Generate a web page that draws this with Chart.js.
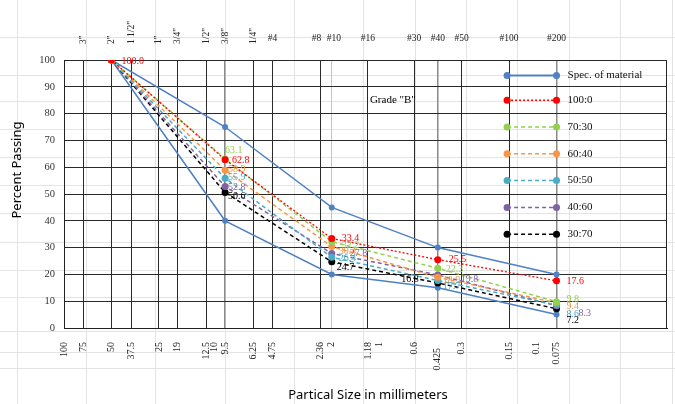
<!DOCTYPE html>
<html><head><meta charset="utf-8">
<script src="https://cdn.jsdelivr.net/npm/chart.js@4.4.0/dist/chart.umd.min.js"></script>
<style>
html,body{margin:0;padding:0;background:#fff;}
#wrap{position:relative;width:675px;height:404px;background-repeat:no-repeat;}
canvas{display:block;}
</style></head><body>
<div id="wrap"><canvas id="c" width="675" height="404"></canvas></div>
<script>
// ---------- data ----------
const sieveSizes = [75, 50, 37.5, 25, 19, 12.5, 9.5, 6.25, 4.75, 2.36, 2, 1.18, 0.6, 0.425, 0.3, 0.15, 0.075];
const sieveNames = ['3"', '2"', '1 1/2"', '1"', '3/4"', '1/2"', '3/8"', '1/4"', '#4', '#8', '#10', '#16', '#30', '#40', '#50', '#100', '#200'];
const sizeTickValues = [100, 75, 50, 37.5, 25, 19, 12.5, 10, 9.5, 6.25, 4.75, 2.36, 2, 1.18, 1, 0.6, 0.425, 0.3, 0.15, 0.1, 0.075];
const sizeTickLabels = ['100', '75', '50', '37.5', '25', '19', '12.5', '10', '9.5', '6.25', '4.75', '2.36', '2', '1.18', '1', '0.6', '0.425', '0.3', '0.15', '0.1', '0.075'];
const testSizes = [50, 9.5, 2, 0.425, 0.075];
const specUpper = [100, 75, 45, 30, 20];
const specLower = [100, 40, 20, 15, 5];
const blend100_0 = [100, 62.8, 33.4, 25.5, 17.6];
const blend70_30 = [100, 63.1, 32.2, 22.3, 9.8];
const blend60_40 = [100, 58.9, 30.4, 18.9, 9.4];
const blend50_50 = [100, 55.9, 26.4, 17.7, 8.6];
const blend40_60 = [100, 52.8, 27.8, 19.8, 8.3];
const blend30_70 = [100, 50.6, 24.7, 16.8, 7.2];
const seriesNames = ['Spec. of material', '100:0', '70:30', '60:40', '50:50', '40:60', '30:70'];
const yTitle = 'Percent Passing';
const xTitle = 'Partical Size in millimeters';
const noteText = 'Grade "B"';

// ---------- styles ----------
const SERIF = '"Liberation Serif", "Times New Roman", serif';
const SANS = '"Noto Sans", "Open Sans", sans-serif';
const specColor = '#4F81C4';
const blendColors = ['#FF0000', '#92D050', '#F79646', '#4BACC6', '#8064A2', '#000000'];
const blendDash = [[2, 2], [4, 3], [4, 3], [4, 3], [4, 3], [4, 3]];
// label offsets [dx, dy] in px from each point (null = no label); negative dx => right aligned
const labelOffsets = [
  [[10, 1], [7, 1], [10, 0], [11, 0], [10, 1]],
  [null, [0, -9], [10, 4], [8, 1], [10, -2]],
  [null, [3, -1], [7, 5], [5, 3], [10, 4]],
  [null, [3, -1], [7, 1], [5, 6], [10, 9]],
  [null, [3, 1], [18, 0], [23, 4], [22, 8]],
  [null, [3, 4], [5, 6], [-19, -4], [10, 12]]
];
const bgX = [17, 86, 155, 225, 294, 363, 415, 466, 517, 569, 620, 672];
const bgY = [37, 75, 101, 129, 157, 185, 213, 242, 270, 297, 331, 352, 368];
(function () {
  const w = document.getElementById('wrap');
  const g = [], p = [], s = [];
  bgX.forEach(x => { g.push('linear-gradient(#e3e3e3,#e3e3e3)'); p.push(x + 'px 0px'); s.push('1px 100%'); });
  bgY.forEach(y => { g.push('linear-gradient(#e3e3e3,#e3e3e3)'); p.push('0px ' + y + 'px'); s.push('100% 1px'); });
  w.style.backgroundImage = g.join(',');
  w.style.backgroundPosition = p.join(',');
  w.style.backgroundSize = s.join(',');
})();

const pts = vals => testSizes.map((sz, i) => ({ x: sz, y: vals[i] }));
const blends = [blend100_0, blend70_30, blend60_40, blend50_50, blend40_60, blend30_70];
const datasets = blends.map((vals, i) => ({
  label: seriesNames[i + 1],
  data: pts(vals),
  borderColor: blendColors[i],
  backgroundColor: blendColors[i],
  borderDash: blendDash[i],
  borderWidth: i === 0 ? 1.3 : 1.5,
  pointRadius: 3.5,
  pointBorderWidth: 0,
  labelOffsets: labelOffsets[i]
}));
datasets.push({ label: seriesNames[0], data: pts(specUpper), borderColor: specColor, backgroundColor: specColor, borderWidth: 1.5, pointRadius: 3, pointBorderWidth: 0 });
datasets.push({ label: seriesNames[0] + ' (lower)', data: pts(specLower), borderColor: specColor, backgroundColor: specColor, borderWidth: 1.5, pointRadius: 3, pointBorderWidth: 0 });

const greyLines = [9.5, 0.425, 0.075];

const overlay = {
  id: 'overlay',
  afterDatasetsDraw(chart) {
    const ctx = chart.ctx;
    ctx.save();
    ctx.font = '10px ' + SERIF;
    ctx.textBaseline = 'middle';
    chart.data.datasets.forEach((ds, di) => {
      if (!ds.labelOffsets) return;
      const meta = chart.getDatasetMeta(di);
      meta.data.forEach((pt, j) => {
        const off = ds.labelOffsets[j];
        if (!off) return;
        ctx.fillStyle = ds.borderColor;
        ctx.textAlign = off[0] < 0 ? 'right' : 'left';
        ctx.fillText(ds.data[j].y.toFixed(1), pt.x + off[0], pt.y + off[1]);
      });
    });
    ctx.restore();
  },
  afterDraw(chart) {
    const ctx = chart.ctx, xs = chart.scales.x, ys = chart.scales.y, ca = chart.chartArea;
    ctx.save();
    // right border
    ctx.strokeStyle = '#262626'; ctx.lineWidth = 1;
    ctx.beginPath(); ctx.moveTo(Math.round(ca.right) - 0.5, ca.top); ctx.lineTo(Math.round(ca.right) - 0.5, ca.bottom); ctx.stroke();
    // top sieve labels
    ctx.fillStyle = '#222';
    ctx.font = '9.5px ' + SERIF;
    sieveNames.forEach((nm, i) => {
      let x = xs.getPixelForValue(sieveSizes[i]);
      if (nm.includes('"')) {
        ctx.save(); ctx.translate(x, 44); ctx.rotate(-Math.PI / 2);
        ctx.textAlign = 'left'; ctx.textBaseline = 'middle'; ctx.fillText(nm, 0, 0); ctx.restore();
      } else {
        if (nm === '#8') x -= 4;
        if (nm === '#10') x += 2;
        ctx.textAlign = 'center'; ctx.textBaseline = 'middle'; ctx.fillText(nm, x, 38);
      }
    });
    // bottom size labels
    ctx.font = '10px ' + SERIF;
    sizeTickValues.forEach((v, i) => {
      let x = xs.getPixelForValue(v), y = 342;
      if (sizeTickLabels[i] === '10') { x -= 7; }
      if (sizeTickLabels[i] === '0.425') { y += 6; }
      ctx.save(); ctx.translate(x, y); ctx.rotate(-Math.PI / 2);
      ctx.textAlign = 'right'; ctx.textBaseline = 'middle'; ctx.fillText(sizeTickLabels[i], 0, 0); ctx.restore();
    });
    // axis titles
    ctx.fillStyle = '#000';
    ctx.font = '13px ' + SANS;
    ctx.save(); ctx.translate(17, 170); ctx.rotate(-Math.PI / 2);
    ctx.textAlign = 'center'; ctx.textBaseline = 'middle'; ctx.fillText(yTitle, 0, 0); ctx.restore();
    ctx.textAlign = 'center'; ctx.textBaseline = 'middle';
    ctx.fillText(xTitle, 368, 395);
    // note
    ctx.font = '11px ' + SERIF;
    ctx.textAlign = 'left';
    ctx.fillText(noteText, xs.getPixelForValue(1.18) + 2, ys.getPixelForValue(85));
    // legend
    const rows = [94.2, 85, 75, 65, 55, 45, 35];
    const x1 = xs.getPixelForValue(0.15) - 2, x2 = xs.getPixelForValue(0.075);
    const styles = [{ c: specColor, d: [], w: 2 }].concat(blendColors.map((c, i) => ({ c, d: blendDash[i], w: 1.5 })));
    seriesNames.forEach((nm, i) => {
      const y = ys.getPixelForValue(rows[i]);
      const st = styles[i];
      ctx.strokeStyle = st.c; ctx.lineWidth = st.w; ctx.setLineDash(st.d);
      ctx.beginPath(); ctx.moveTo(x1, y); ctx.lineTo(x2, y); ctx.stroke();
      ctx.setLineDash([]);
      ctx.fillStyle = st.c;
      [x1, x2].forEach(px => { ctx.beginPath(); ctx.arc(px, y, 3.5, 0, Math.PI * 2); ctx.fill(); });
      ctx.fillStyle = '#111';
      ctx.font = '11px ' + SERIF;
      ctx.textAlign = 'left'; ctx.textBaseline = 'middle';
      ctx.fillText(nm, x2 + 11, y);
    });
    ctx.restore();
  }
};

new Chart(document.getElementById('c'), {
  type: 'line',
  data: { datasets },
  options: {
    responsive: false,
    animation: false,
    devicePixelRatio: 1,
    layout: { padding: { top: 60, right: 8, left: 0, bottom: 0 } },
    plugins: { legend: { display: false }, tooltip: { enabled: false }, title: { display: false } },
    elements: { line: { tension: 0 } },
    scales: {
      x: {
        type: 'logarithmic', reverse: true, min: 0.01493, max: 100,
        afterBuildTicks(scale) { scale.ticks = sieveSizes.map(v => ({ value: v })); },
        afterFit(scale) { scale.height = 76; },
        ticks: { display: false },
        grid: {
          drawTicks: false,
          color: c => (c.tick && c.tick.value === 2) ? '#c4c4c4' : (c.tick && greyLines.includes(c.tick.value) ? '#8a8a8a' : '#2a2a2a'),
          lineWidth: c => (c.tick && greyLines.includes(c.tick.value)) ? 1.5 : 1
        },
        border: { display: true, color: '#222', width: 1 }
      },
      y: {
        min: 0, max: 100,
        afterFit(scale) { scale.width = 64; },
        ticks: { stepSize: 10, padding: 9, color: '#333', font: { family: SERIF, size: 10.5 } },
        grid: { drawTicks: false, color: '#2a2a2a', lineWidth: 1 },
        border: { display: true, color: '#222', width: 1 }
      }
    }
  },
  plugins: [overlay]
});
</script>
</body></html>
